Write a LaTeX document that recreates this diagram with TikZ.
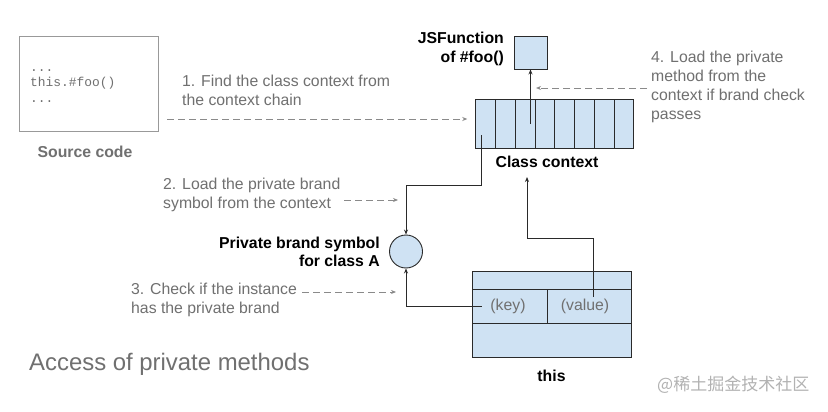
\documentclass[tikz,border=0pt]{standalone}
\usepackage{fontspec}
\setmainfont{Liberation Sans}
\setmonofont{Liberation Mono}
\newfontfamily\cjk{Noto Sans CJK SC}
\usetikzlibrary{arrows.meta,calc}
\definecolor{fillblue}{HTML}{CFE2F3}
\definecolor{lbl}{HTML}{707070}
\definecolor{edge}{HTML}{2A2A2A}
\definecolor{dashc}{HTML}{8A8A8A}
\tikzset{
  txt/.style={font=\fontsize{15.8}{19}\selectfont, inner sep=0pt},
  steplabel/.style={txt, text=lbl, align=left, anchor=west},
  boldlabel/.style={txt, font=\fontsize{15.8}{18.5}\selectfont\bfseries},
  cellbox/.style={draw=edge, fill=fillblue, line width=0.9pt, inner sep=0pt},
  conn/.style={draw=edge, line width=0.9pt, -{Stealth[length=5pt,width=4pt]}},
  dashconn/.style={draw=dashc, line width=0.9pt, dash pattern=on 7pt off 4pt, -{Stealth[length=5pt,width=4pt]}},
}
\begin{document}
\begin{tikzpicture}[x=1pt,y=-1pt]
\useasboundingbox[fill=white] (0,0) rectangle (828,412);

% source code
\node[draw=black!40, line width=0.9pt, minimum width=139pt, minimum height=95pt, inner sep=0pt] (src) at (88.5,83.5) {};
\node[anchor=west, align=left, inner sep=0pt, text=lbl, font=\fontsize{12.9}{15.5}\selectfont\ttfamily] (code) at (30,86) {...\\this.\#foo()\\...};
\node[boldlabel, text=lbl] (srclbl) at (85,152) {Source code};

% step 1
\node[steplabel] (s1) at (182,90) {1. Find the class context from\\the context chain};
\coordinate (d1) at (167,119);

% class context
\foreach \i in {1,...,8}
  \node[cellbox, minimum width=19.75pt, minimum height=49pt] (c\i) at ({475.7+(\i-0.5)*19.75},123.5) {};
\node[boldlabel] (ctxlbl) at (547,162) {Class context};

% JSFunction
\node[cellbox, minimum width=33pt, minimum height=33pt] (jsf) at (530.5,52.5) {};
\node[boldlabel, align=right, anchor=east] (jsflbl) at (504,49) {JSFunction\\of \#foo()};

% step 4
\node[steplabel] (s4) at (651,86.5) {4. Load the private\\method from the\\context if brand check\\passes};
\coordinate (d4) at (647,88);
\coordinate (d4e) at (536,88);

% brand symbol
\node[draw=edge, fill=fillblue, line width=0.9pt, circle, minimum size=33pt, inner sep=0pt] (sym) at (406,251.5) {};
\node[boldlabel, align=right, anchor=east] (symlbl) at (380,252) {Private brand symbol\\for class A};

% step 2
\node[steplabel] (s2) at (163,195) {2. Load the private brand\\symbol from the context};
\coordinate (d2) at (344,200);
\coordinate (d2e) at (398,200);

% step 3
\node[steplabel] (s3) at (131,299.5) {3. Check if the instance\\has the private brand};
\coordinate (d3) at (302,292);
\coordinate (d3e) at (396,292);

% this object
\node[cellbox, minimum width=159pt, minimum height=86pt] (obj) at (551.5,314) {};
\node[cellbox, minimum width=75pt, minimum height=34pt] (key) at (509.5,306) {};
\node[cellbox, minimum width=84pt, minimum height=34pt] (val) at (589,306) {};
\node[txt, text=lbl] (keyt) at (508,306) {(key)};
\node[txt, text=lbl] (valt) at (585,306) {(value)};
\node[boldlabel] (thislbl) at (551.5,376) {this};

% connectors
\draw[dashconn, shorten >=8pt] (d1) -- (c1.west |- d1);
\draw[dashconn] (d4) -- (d4e);
\draw[dashconn] (d2) -- (d2e);
\draw[dashconn] (d3) -- (d3e);
\draw[conn] (jsf.south |- 0,124) -- (jsf.south);
\draw[conn] ($(c1.center)+(-4,11.5)$) -- ++(0,50) -| (sym.north);
\draw[conn] ($(key.west)+(10,0)$) -| (sym.south);
\draw[conn] (593,297) -- (593,238) -| (527,177);

% title and watermark
\node[anchor=west, inner sep=0pt, text=lbl, font=\fontsize{23.9}{28}\selectfont] (title) at (29,364) {Access of private methods};
\node[anchor=west, inner sep=0pt, text=black!30, font=\fontsize{17}{20}\selectfont\cjk] (wm) at (657,385) {@稀土掘金技术社区};
\end{tikzpicture}
\end{document}
